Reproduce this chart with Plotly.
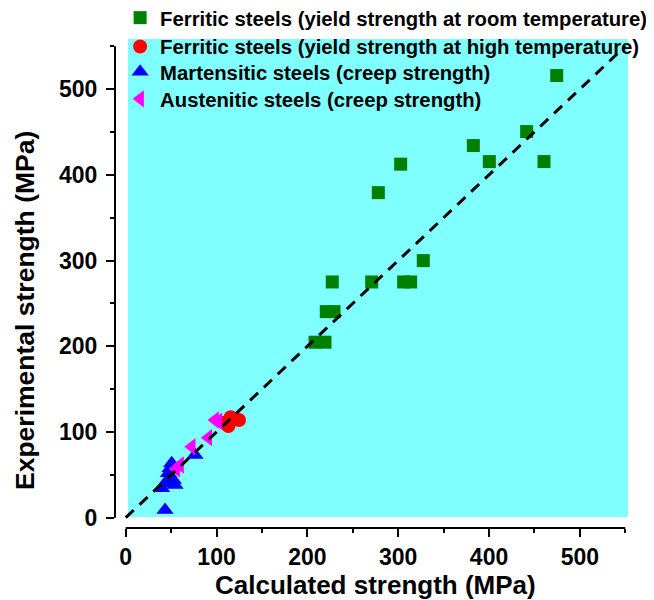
import plotly.graph_objects as go

# ---- data ----
fer_rt_calc = [474.5, 441.4, 382.7, 400.3, 460.5, 302.7, 278.1, 327.6, 227.4, 270.8,
               306.0, 313.7, 220.8, 229.3, 208.4, 219.4]
fer_rt_exp = [515.8, 450.4, 434.1, 415.4, 415.4, 412.4, 379.2, 299.9, 275.0, 275.0,
              275.0, 275.0, 240.4, 240.4, 204.7, 204.7]

fer_ht_calc = [108.2, 115.6, 124.7, 113.0]
fer_ht_exp = [110.9, 117.1, 114.0, 107.0]

mart_calc = [43.3, 76.3, 50.6, 46.9, 52.4, 43.3, 39.6, 54.3, 48.8]
mart_exp = [9.0, 73.2, 63.5, 51.8, 44.0, 40.1, 34.3, 38.2, 57.6]

aus_calc = [98.3, 102.0, 90.9, 72.7, 59.8, 55.5]
aus_exp = [114.0, 112.5, 93.4, 82.8, 61.5, 57.0]

line_xy = [0, 550]

names = [
    "Ferritic steels (yield strength at room temperature)",
    "Ferritic steels (yield strength at high temperature)",
    "Martensitic steels (creep strength)",
    "Austenitic steels (creep strength)",
]
x_title = "Calculated strength (MPa)"
y_title = "Experimental strength (MPa)"
tick_vals = [0, 100, 200, 300, 400, 500]
tick_text = ["0", "100", "200", "300", "400", "500"]

FONT = "Liberation Sans, Arial, sans-serif"

def bold(s):
    return "<b>" + s + "</b>"

fig = go.Figure()
fig.add_trace(go.Scatter(x=fer_rt_calc, y=fer_rt_exp, mode="markers", name=bold(names[0]),
                         marker=dict(symbol="square", size=13, color="#008000", line=dict(width=0)),
                         legend="legend"))
fig.add_trace(go.Scatter(x=fer_ht_calc, y=fer_ht_exp, mode="markers", name=bold(names[1]),
                         marker=dict(symbol="circle", size=14, color="#FF0000", line=dict(width=0)),
                         legend="legend2"))
fig.add_trace(go.Scatter(x=mart_calc, y=mart_exp, mode="markers", name=bold(names[2]),
                         marker=dict(symbol="triangle-up", size=15, color="#0000FF", line=dict(width=0)),
                         legend="legend3"))
fig.add_trace(go.Scatter(x=aus_calc, y=aus_exp, mode="markers", name=bold(names[3]),
                         marker=dict(symbol="triangle-left", size=15, color="#FF00FF", line=dict(width=0)),
                         legend="legend4"))
fig.add_trace(go.Scatter(x=line_xy, y=line_xy, mode="lines", showlegend=False,
                         line=dict(color="black", width=3, dash="11px,8px")))

legend_font = dict(family=FONT, size=20.3, color="black")
def leg(y):
    return dict(x=0.0095, y=y, xanchor="left", yanchor="middle", bgcolor="rgba(0,0,0,0)",
                borderwidth=0, font=legend_font)

axis_common = dict(
    showgrid=False, zeroline=False, showline=False, automargin=False,
    ticks="outside", ticklen=8, tickwidth=2, tickcolor="black",
    tickvals=tick_vals, ticktext=tick_text,
    tickfont=dict(family=FONT, size=23, color="black", weight="bold"),
    minor=dict(ticks="outside", ticklen=4, tickwidth=2, tickcolor="black", dtick=50, tick0=0),
)

fig.update_layout(
    width=646, height=592,
    margin=dict(l=107, r=0, t=31, b=72, autoexpand=False),
    paper_bgcolor="white", plot_bgcolor="white",
    font=dict(family=FONT, color="black"),
    xaxis=dict(range=[-11.8, 581.6], **axis_common),
    yaxis=dict(range=[-12.0, 558.4], **axis_common, ticklabelstandoff=4),
    legend=leg(1.043), legend2=leg(0.984), legend3=leg(0.9325), legend4=leg(0.877),
    annotations=[
        dict(text=x_title, xref="paper", yref="paper", x=0.4842, y=-0.1166,
             xanchor="center", yanchor="middle", showarrow=False,
             font=dict(family=FONT, size=26, color="black", weight="bold")),
        dict(text=y_title, xref="paper", yref="paper", x=-0.167, y=0.4458,
             xanchor="center", yanchor="middle", showarrow=False, textangle=-90,
             font=dict(family=FONT, size=26.5, color="black", weight="bold")),
    ],
    shapes=[
        dict(type="rect", xref="x", yref="y", x0=2.5, x1=553.0, y0=0.8, y1=558.4,
             fillcolor="#80FFFF", line=dict(width=0), layer="below"),
        dict(type="line", xref="x", yref="paper", x0=0, x1=550, y0=0, y1=0,
             line=dict(color="black", width=2)),
        dict(type="line", xref="paper", yref="y", x0=0, x1=0, y0=0, y1=550,
             line=dict(color="black", width=2)),
    ],
)

fig.write_html("out.html")
